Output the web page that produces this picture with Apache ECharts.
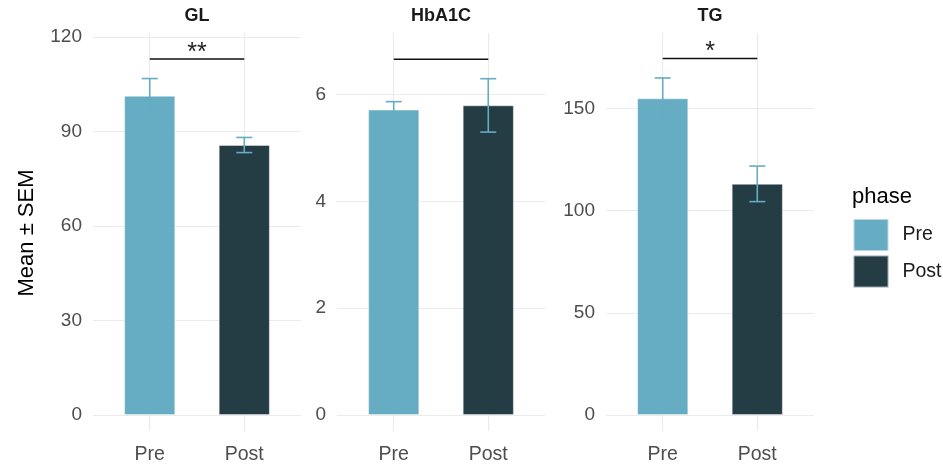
<!DOCTYPE html>
<html>
<head>
<meta charset="utf-8">
<script src="https://cdn.jsdelivr.net/npm/echarts@6/dist/echarts.min.js"></script>
<style>
html,body{margin:0;padding:0;background:#fff;}
#chart{width:943px;height:465px;}
</style>
</head>
<body>
<div id="chart"></div>
<script>
// ---- data ----
const categories = ['Pre', 'Post'];
const panels = ['GL', 'HbA1C', 'TG'];
const meanPre = [101.3, 5.72, 154.9];
const meanPost = [85.7, 5.80, 113.1];
const semPre = [5.5, 0.15, 10.0];
const semPost = [2.4, 0.50, 8.7];
const sigY = [113.0, 6.665, 174.4];
const sigLabel = ['**', '', '*'];
const yInterval = [30, 2, 50];
const yMax = [121.26, 7.156, 186.9];
const legendTitle = 'phase';
const yTitle = 'Mean \u00B1 SEM';

// ---- style ----
const colPre = '#66acc2';
const colPost = '#243c44';
const gridCol = '#ebebeb';
const panelLeft = [93, 337, 606];
const panelWidth = 208;
const gridTop = 33;
const gridBottom = 48.3;
const FONT = 'Arial, "Liberation Sans", sans-serif';

const chart = echarts.init(document.getElementById('chart'));

const grids = [], xAxes = [], yAxes = [], series = [], graphics = [];

panels.forEach((name, i) => {
  grids.push({left: panelLeft[i], width: panelWidth, top: gridTop, bottom: gridBottom, containLabel: false});
  xAxes.push({
    type: 'value', gridIndex: i, min: 0.4, max: 2.6,
    axisLine: {show: false},
    axisTick: {show: true, customValues: [1, 2], length: 16, lineStyle: {color: gridCol, width: 1.2}},
    axisLabel: {customValues: [1, 2], formatter: v => categories[Math.round(v) - 1] || '',
      color: '#4d4d4d', fontSize: 19.5, fontFamily: FONT, margin: 30},
    splitLine: {show: true, lineStyle: {color: gridCol, width: 1.2}}
  });
  yAxes.push({
    type: 'value', gridIndex: i, min: 0, max: yMax[i], interval: yInterval[i],
    axisLine: {show: false}, axisTick: {show: false},
    axisLabel: {color: '#4d4d4d', fontSize: 19, fontFamily: FONT, margin: 11, showMaxLabel: false},
    splitLine: {show: true, showMaxLine: false, lineStyle: {color: gridCol, width: 1.2}}
  });
  series.push({
    name: 'Pre', type: 'bar', xAxisIndex: i, yAxisIndex: i, barWidth: 51, barGap: '-100%',
    itemStyle: {color: colPre, borderColor: 'rgba(255,255,255,0.55)', borderWidth: 0.8},
    data: [[1, meanPre[i]]], z: 2
  });
  series.push({
    name: 'Post', type: 'bar', xAxisIndex: i, yAxisIndex: i, barWidth: 51, barGap: '-100%',
    itemStyle: {color: colPost, borderColor: 'rgba(255,255,255,0.55)', borderWidth: 0.8},
    data: [[2, meanPost[i]]], z: 2
  });
  // error bars
  series.push({
    type: 'custom', xAxisIndex: i, yAxisIndex: i, z: 3, silent: true,
    data: [
      [1, meanPre[i] - semPre[i], meanPre[i] + semPre[i]],
      [2, meanPost[i] - semPost[i], meanPost[i] + semPost[i]]
    ],
    encode: {x: 0, y: [1, 2]},
    renderItem: (params, api) => {
      const x = api.value(0);
      const lo = api.coord([x, api.value(1)]);
      const hi = api.coord([x, api.value(2)]);
      const hw = 8;
      const st = {stroke: colPre, lineWidth: 1.6};
      return {type: 'group', children: [
        {type: 'line', shape: {x1: lo[0], y1: lo[1], x2: hi[0], y2: hi[1]}, style: st},
        {type: 'line', shape: {x1: hi[0] - hw, y1: hi[1], x2: hi[0] + hw, y2: hi[1]}, style: st},
        {type: 'line', shape: {x1: lo[0] - hw, y1: lo[1], x2: lo[0] + hw, y2: lo[1]}, style: st}
      ]};
    }
  });
  // significance bracket
  series.push({
    type: 'custom', xAxisIndex: i, yAxisIndex: i, z: 4, silent: true,
    data: [[1, 2, sigY[i]]],
    encode: {x: [0, 1], y: 2},
    renderItem: (params, api) => {
      const a = api.coord([api.value(0), api.value(2)]);
      const b = api.coord([api.value(1), api.value(2)]);
      return {type: 'group', children: [
        {type: 'line', shape: {x1: a[0], y1: a[1], x2: b[0], y2: b[1]}, style: {stroke: '#111', lineWidth: 1.6}},
        {type: 'text', style: {text: sigLabel[i], x: (a[0] + b[0]) / 2, y: a[1] - 6,
          align: 'center', verticalAlign: 'middle', fontSize: 25, fontFamily: FONT, fill: '#222'}}
      ]};
    }
  });
  graphics.push({
    type: 'text', x: panelLeft[i] + panelWidth / 2, y: 16.5,
    style: {text: name, align: 'center', verticalAlign: 'middle', fontSize: 18, fontWeight: 'bold', fontFamily: FONT, fill: '#1a1a1a'}
  });
});

graphics.push({
  type: 'text', x: 27, y: 233, rotation: Math.PI / 2,
  style: {text: yTitle, align: 'center', verticalAlign: 'middle', fontSize: 22, fontFamily: FONT, fill: '#000'}
});
graphics.push({
  type: 'text', x: 852, y: 197,
  style: {text: legendTitle, align: 'left', verticalAlign: 'middle', fontSize: 22, fontFamily: FONT, fill: '#000'}
});

chart.setOption({
  animation: false,
  backgroundColor: '#fff',
  grid: grids,
  xAxis: xAxes,
  yAxis: yAxes,
  legend: {
    data: categories, orient: 'vertical', left: 852.5, top: 218, padding: 0,
    itemWidth: 35, itemHeight: 32, itemGap: 2.6, icon: 'rect', selectedMode: false,
    textStyle: {fontSize: 19.5, fontFamily: FONT, color: '#1a1a1a', padding: [0, 0, 0, 9]}
  },
  graphic: graphics,
  series: series
});
</script>
</body>
</html>
